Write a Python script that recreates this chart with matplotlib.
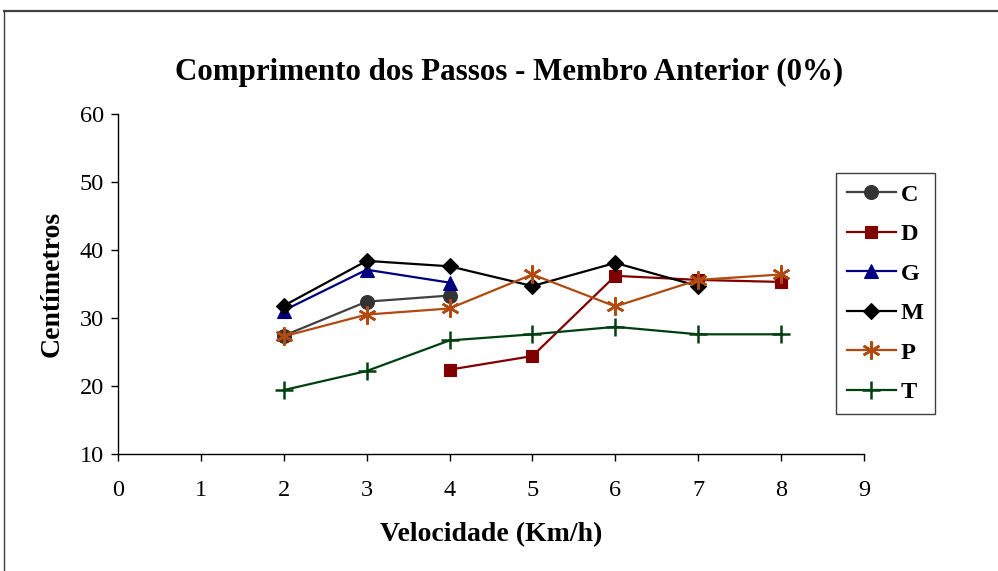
import matplotlib
matplotlib.use("Agg")
import matplotlib.pyplot as plt
from matplotlib.lines import Line2D

plt.rcParams['font.family'] = ['Liberation Serif', 'DejaVu Serif']

# Velocidade (Km/h) para cada série
x_C = [2, 3, 4]
y_C = [27.4, 32.4, 33.3]
x_D = [4, 5, 6, 7, 8]
y_D = [22.4, 24.4, 36.2, 35.6, 35.3]
x_G = [2, 3, 4]
y_G = [31.1, 37.1, 35.2]
x_M = [2, 3, 4, 5, 6, 7]
y_M = [31.8, 38.4, 37.6, 34.7, 38.1, 34.7]
x_P = [2, 3, 4, 5, 6, 7, 8]
y_P = [27.3, 30.5, 31.4, 36.4, 31.7, 35.6, 36.4]
x_T = [2, 3, 4, 5, 6, 7, 8]
y_T = [19.4, 22.2, 26.7, 27.6, 28.7, 27.6, 27.6]

x_ticks = [0, 1, 2, 3, 4, 5, 6, 7, 8, 9]
y_ticks = [10, 20, 30, 40, 50, 60]

fig = plt.figure(figsize=(9.98, 5.71), dpi=100)
ax = fig.add_axes([0.1182, 0.2049, 0.7475, 0.5955])

asterisk = (6, 2, 0)
series = [
    ("C", x_C, y_C, "#404040", "#333333", "o", 10),
    ("D", x_D, y_D, "#800000", "#800000", "s", 9),
    ("G", x_G, y_G, "#000080", "#000080", "^", 10.5),
    ("M", x_M, y_M, "#000000", "#000000", "D", 8),
    ("P", x_P, y_P, "#B04A10", "#B04A10", asterisk, 13),
    ("T", x_T, y_T, "#004010", "#004010", "+", 13),
]
for name, xs, ys, lc, mc, mk, ms in series:
    thin = mk in (asterisk, "+")
    ax.plot(xs, ys, color=lc, lw=1.6, marker=mk, markersize=ms,
            markerfacecolor=mc, markeredgecolor=mc,
            markeredgewidth=1.8 if thin else 0.8, label=name)

ax.set_xlim(0, 9)
ax.set_ylim(10, 60)
ax.set_xticks(x_ticks)
ax.set_yticks(y_ticks)
ax.spines['top'].set_visible(False)
ax.spines['right'].set_visible(False)
for s in ('left', 'bottom'):
    ax.spines[s].set_linewidth(1.0)
ax.tick_params(direction='out', length=5, width=1, labelsize=17.5)
ax.tick_params(axis='y', pad=5)
ax.tick_params(axis='x', pad=14)

fig.text(509 / 998, 1 - 72 / 571, "Comprimento dos Passos - Membro Anterior (0%)",
         fontsize=22.3, fontweight='bold', ha='center', va='center')
ax.set_xlabel("Velocidade (Km/h)", fontsize=20, fontweight='bold', labelpad=15)
ax.set_ylabel("Centímetros", fontsize=20, fontweight='bold', labelpad=11)

leg = ax.legend(loc='upper left', bbox_to_anchor=(0.9625, 0.8265), frameon=True,
                fancybox=False, edgecolor='#404040', framealpha=1,
                prop={'weight': 'bold', 'size': 17.5}, handlelength=2.0,
                labelspacing=0.72, borderpad=0.45, handletextpad=0.22,
                borderaxespad=0)
leg.get_frame().set_linewidth(1.0)

# Moldura exterior (apenas margens superior e esquerda visíveis)
fig.add_artist(Line2D([4 / 998, 1.0], [1 - 10.5 / 571, 1 - 10.5 / 571],
                      transform=fig.transFigure, color='#404040', lw=1.6))
fig.add_artist(Line2D([4 / 998, 4 / 998], [0.0, 1 - 10.5 / 571],
                      transform=fig.transFigure, color='#404040', lw=1.0))

fig.savefig("out.png", dpi=100)
